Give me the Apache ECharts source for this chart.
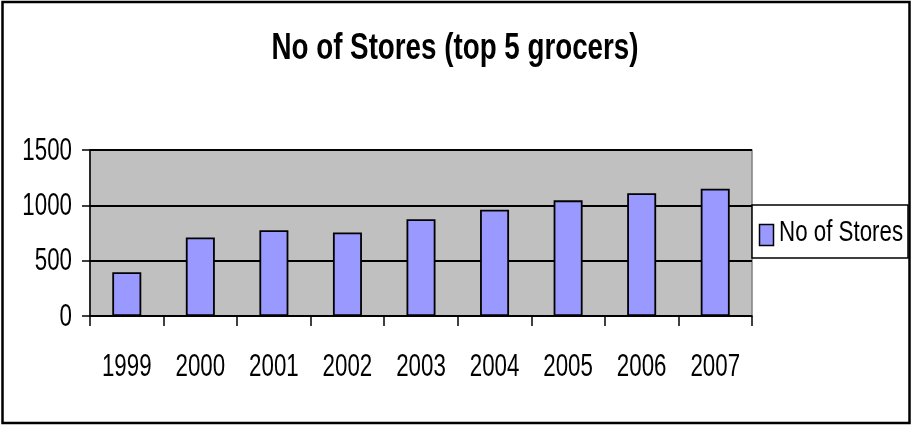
<!DOCTYPE html>
<html>
<head>
<meta charset="utf-8">
<script src="https://cdn.jsdelivr.net/npm/echarts@6/dist/echarts.min.js"></script>
<style>
  html, body { margin: 0; padding: 0; background: #fff; }
  #chart { width: 914px; height: 426px; }
</style>
</head>
<body>
<div id="chart"></div>
<script>
// Store counts for the top 5 grocers, by year
const years = ['1999', '2000', '2001', '2002', '2003', '2004', '2005', '2006', '2007'];
const storeCounts = [395, 710, 775, 755, 875, 960, 1045, 1110, 1150];
const seriesName = 'No of Stores';
const chartTitle = 'No of Stores (top 5 grocers)';
const yTicks = { min: 0, max: 1500, interval: 500 };

const FONT = '"Liberation Sans", Arial, sans-serif';
const BAR_COLOR = '#9999FF';
// Horizontal squeeze giving the narrow, tall lettering
const NARROW = 0.72;

const chart = echarts.init(document.getElementById('chart'), null, { renderer: 'canvas' });

chart.setOption({
  backgroundColor: '#ffffff',
  animation: false,
  grid: {
    left: 90,
    right: 162,
    top: 150,
    bottom: 110,
    show: true,
    backgroundColor: '#C0C0C0',
    borderColor: '#808080',
    borderWidth: 1.5
  },
  xAxis: {
    type: 'category',
    data: years,
    boundaryGap: true,
    axisLine: { lineStyle: { color: '#000', width: 1.5 } },
    axisTick: { show: true, length: 10, lineStyle: { color: '#000', width: 1.5 } },
    axisLabel: { show: false },
    splitLine: { show: false }
  },
  yAxis: {
    type: 'value',
    min: yTicks.min,
    max: yTicks.max,
    interval: yTicks.interval,
    axisLine: { show: true, lineStyle: { color: '#000', width: 1.5 } },
    axisTick: { show: true, length: 8, lineStyle: { color: '#000', width: 1.5 } },
    axisLabel: { show: false },
    splitLine: { show: true, lineStyle: { color: '#000', width: 2 } }
  },
  series: [{
    name: seriesName,
    type: 'bar',
    data: storeCounts,
    barWidth: 29,
    itemStyle: { color: BAR_COLOR, borderColor: '#000', borderWidth: 1.8 }
  }]
});

// Narrow text: title, axis labels and legend, placed from the axes' own scales
function narrowText(x, y, text, size, align, weight, sx) {
  return {
    type: 'text',
    x: x,
    y: y,
    scaleX: sx || NARROW,
    silent: true,
    z: 50,
    style: {
      text: text,
      x: 0,
      y: 0,
      fill: '#000',
      font: (weight || 'normal') + ' ' + size + 'px ' + FONT,
      align: align,
      verticalAlign: 'middle'
    }
  };
}

const elements = [];

// frame around the whole chart
elements.push({
  type: 'rect',
  shape: { x: 2.5, y: 2, width: 907, height: 421 },
  style: { fill: 'none', stroke: '#000', lineWidth: 2.5 },
  z: 100,
  silent: true
});

// title
elements.push(narrowText(455, 49, chartTitle, 37, 'center', 'bold', 0.75));

// category labels under the x axis
years.forEach(function (yr, i) {
  const p = chart.convertToPixel({ xAxisIndex: 0, yAxisIndex: 0 }, [i, yTicks.min]);
  elements.push(narrowText(p[0], p[1] + 51, yr, 31, 'center'));
});

// value labels left of the y axis
for (let v = yTicks.min; v <= yTicks.max; v += yTicks.interval) {
  const p = chart.convertToPixel({ xAxisIndex: 0, yAxisIndex: 0 }, [0, v]);
  elements.push(narrowText(72, p[1] + 1, String(v), 31, 'right'));
}

// legend box
const lg = { x: 752, y: 205, w: 156, h: 53 };
elements.push({
  type: 'rect',
  shape: { x: lg.x, y: lg.y, width: lg.w, height: lg.h },
  style: { fill: '#fff', stroke: '#000', lineWidth: 1.5 },
  z: 40,
  silent: true
});
elements.push({
  type: 'rect',
  shape: { x: lg.x + 7.5, y: lg.y + 19.5, width: 14, height: 21 },
  style: { fill: BAR_COLOR, stroke: '#000', lineWidth: 1.5 },
  z: 45,
  silent: true
});
elements.push(narrowText(lg.x + 27, lg.y + 28, seriesName, 29, 'left', 'normal', 0.77));

chart.setOption({ graphic: elements });
</script>
</body>
</html>
